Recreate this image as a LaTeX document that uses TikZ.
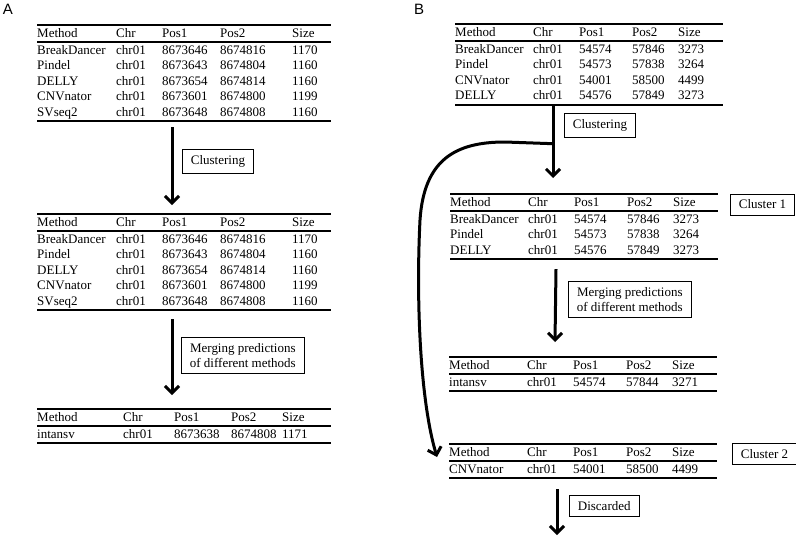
\documentclass[tikz,border=0pt]{standalone}
\usepackage{fontspec}
\setmainfont{Liberation Serif}
\newfontfamily\panelfont{Liberation Sans}
\usepackage{array}
\usetikzlibrary{arrows.meta,positioning,calc}
\setlength{\tabcolsep}{0pt}
\setlength{\arrayrulewidth}{1.6pt}
\setlength{\extrarowheight}{1.5pt}
\newcolumntype{L}{p{79pt}p{46pt}p{58pt}p{72pt}p{39pt}}
\newcolumntype{J}{p{86pt}p{51pt}p{57pt}p{51pt}p{49pt}}
\newcolumntype{R}{p{78pt}p{46pt}p{53pt}p{46pt}p{45pt}}
\newcommand{\svhead}{\hline Method & Chr & Pos1 & Pos2 & Size\\ \hline}

\begin{document}
\begin{tikzpicture}[x=1pt,y=-1pt,
  svtab/.style={anchor=north west,inner sep=0pt,font=\fontsize{13}{14}\selectfont},
  stepbox/.style={draw,line width=0.8pt,anchor=west,inner xsep=8.5pt,inner ysep=6pt,align=center,font=\fontsize{13}{14.5}\selectfont},
  flow/.style={line width=3pt,-{Straight Barb[length=7pt,width=14pt]}},
  panel/.style={font=\panelfont\fontsize{15}{15}\selectfont}]
  \useasboundingbox (0,0) rectangle (796,536);

  % Panel A: one call set
  \node[panel] (pa) at (8,9) {A};
  \node[svtab] (tA1) at (37,24) {\begin{tabular}{L}
    \svhead
    BreakDancer & chr01 & 8673646 & 8674816 & 1170\\
    Pindel      & chr01 & 8673643 & 8674804 & 1160\\
    DELLY       & chr01 & 8673654 & 8674814 & 1160\\
    CNVnator    & chr01 & 8673601 & 8674800 & 1199\\
    SVseq2      & chr01 & 8673648 & 8674808 & 1160\\ \hline
  \end{tabular}};
  \node[svtab] (tA2) at (37,213) {\begin{tabular}{L}
    \svhead
    BreakDancer & chr01 & 8673646 & 8674816 & 1170\\
    Pindel      & chr01 & 8673643 & 8674804 & 1160\\
    DELLY       & chr01 & 8673654 & 8674814 & 1160\\
    CNVnator    & chr01 & 8673601 & 8674800 & 1199\\
    SVseq2      & chr01 & 8673648 & 8674808 & 1160\\ \hline
  \end{tabular}};
  \node[svtab] (tA3) at (37,408) {\begin{tabular}{J}
    \svhead
    intansv & chr01 & 8673638 & 8674808 & 1171\\ \hline
  \end{tabular}};

  \node[stepbox] (clusA) at (182,161) {Clustering};
  \node[stepbox] (mergeA) at (181,355.5) {Merging predictions\\of different methods};

  \draw[flow] ([xshift=135pt,yshift=-5pt]tA1.south west) -- ([xshift=135pt,yshift=8pt]tA2.north west);
  \draw[flow] ([xshift=135pt,yshift=-8pt]tA2.south west) -- ([xshift=135pt,yshift=13pt]tA3.north west);

  % Panel B: two clusters
  \node[panel] (pb) at (419,9) {B};
  \node[svtab] (tB1) at (455,23) {\begin{tabular}{R}
    \svhead
    BreakDancer & chr01 & 54574 & 57846 & 3273\\
    Pindel      & chr01 & 54573 & 57838 & 3264\\
    CNVnator    & chr01 & 54001 & 58500 & 4499\\
    DELLY       & chr01 & 54576 & 57849 & 3273\\ \hline
  \end{tabular}};
  \node[svtab] (tB2) at (450,193) {\begin{tabular}{R}
    \svhead
    BreakDancer & chr01 & 54574 & 57846 & 3273\\
    Pindel      & chr01 & 54573 & 57838 & 3264\\
    DELLY       & chr01 & 54576 & 57849 & 3273\\ \hline
  \end{tabular}};
  \node[svtab] (tB3) at (449,356) {\begin{tabular}{R}
    \svhead
    intansv & chr01 & 54574 & 57844 & 3271\\ \hline
  \end{tabular}};
  \node[svtab] (tB4) at (449,443) {\begin{tabular}{R}
    \svhead
    CNVnator & chr01 & 54001 & 58500 & 4499\\ \hline
  \end{tabular}};

  \node[stepbox] (clusB) at (564,125.5) {Clustering};
  \node[stepbox] (clu1) at (730,204.5) {Cluster 1};
  \node[stepbox] (mergeB) at (568,299.5) {Merging predictions\\of different methods};
  \node[stepbox] (clu2) at (732,454) {Cluster 2};
  \node[stepbox] (disc) at (569,506) {Discarded};

  \coordinate (split) at ([xshift=98pt,yshift=-38pt]tB1.south west);
  \coordinate (gone) at (557,535);

  \draw[flow] ([xshift=98pt]tB1.south west) -- ([xshift=103pt,yshift=15pt]tB2.north west);
  \draw[flow] (split) -- (505,142) .. controls (455,142) and (424,160) .. (420,220)
    .. controls (416,300) and (420,400) .. ([xshift=-12pt,yshift=-14pt]tB4.north west);
  \draw[flow] ([xshift=106pt,yshift=-9pt]tB2.south west) -- ([xshift=106pt,yshift=14pt]tB3.north west);
  \draw[flow] ([xshift=108pt,yshift=-10pt]tB4.south west) -- (gone);
\end{tikzpicture}
\end{document}
